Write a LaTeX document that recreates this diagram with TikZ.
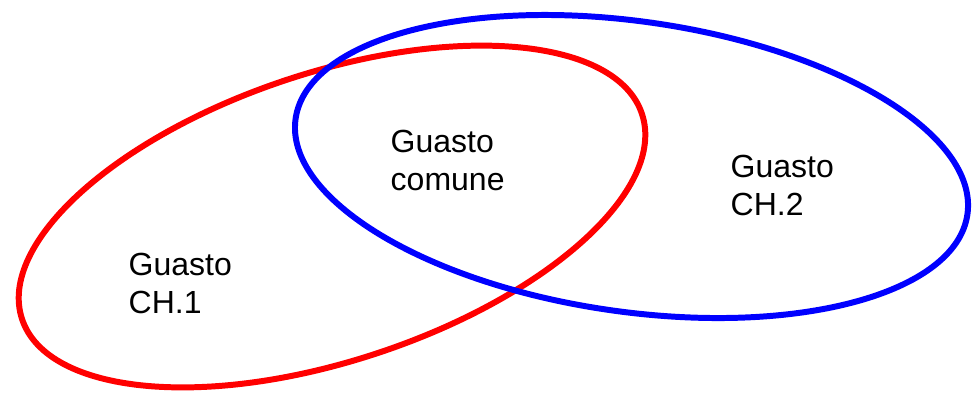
\documentclass[tikz,border=0pt]{standalone}
\usepackage{fontspec}
\setmainfont{Liberation Sans}
\usepackage{tikz}
\usetikzlibrary{positioning}

\begin{document}
\begin{tikzpicture}[x=0.01cm, y=0.01cm,
    ch1/.style={draw=red, line width=1.7pt},
    ch2/.style={draw=blue, line width=1.7pt},
    lab/.style={anchor=north west, inner sep=0pt, align=left, font=\fontsize{9.1}{10.8}\selectfont}]
  \useasboundingbox (0,0) rectangle (977,393);
  \draw[ch1, shift={(332,176.5)}, rotate=18.3] (0,0) ellipse [x radius=326.5, y radius=144];
  \draw[ch2, shift={(631.5,226.5)}, rotate=-8.1] (0,0) ellipse [x radius=339.3, y radius=145.2];
  \node[lab] (g1) at (128,141) {Guasto\\CH.1};
  \node[lab] (gc) at (390,264) {Guasto\\comune};
  \node[lab] (g2) at (730,239) {Guasto\\CH.2};
\end{tikzpicture}
\end{document}
